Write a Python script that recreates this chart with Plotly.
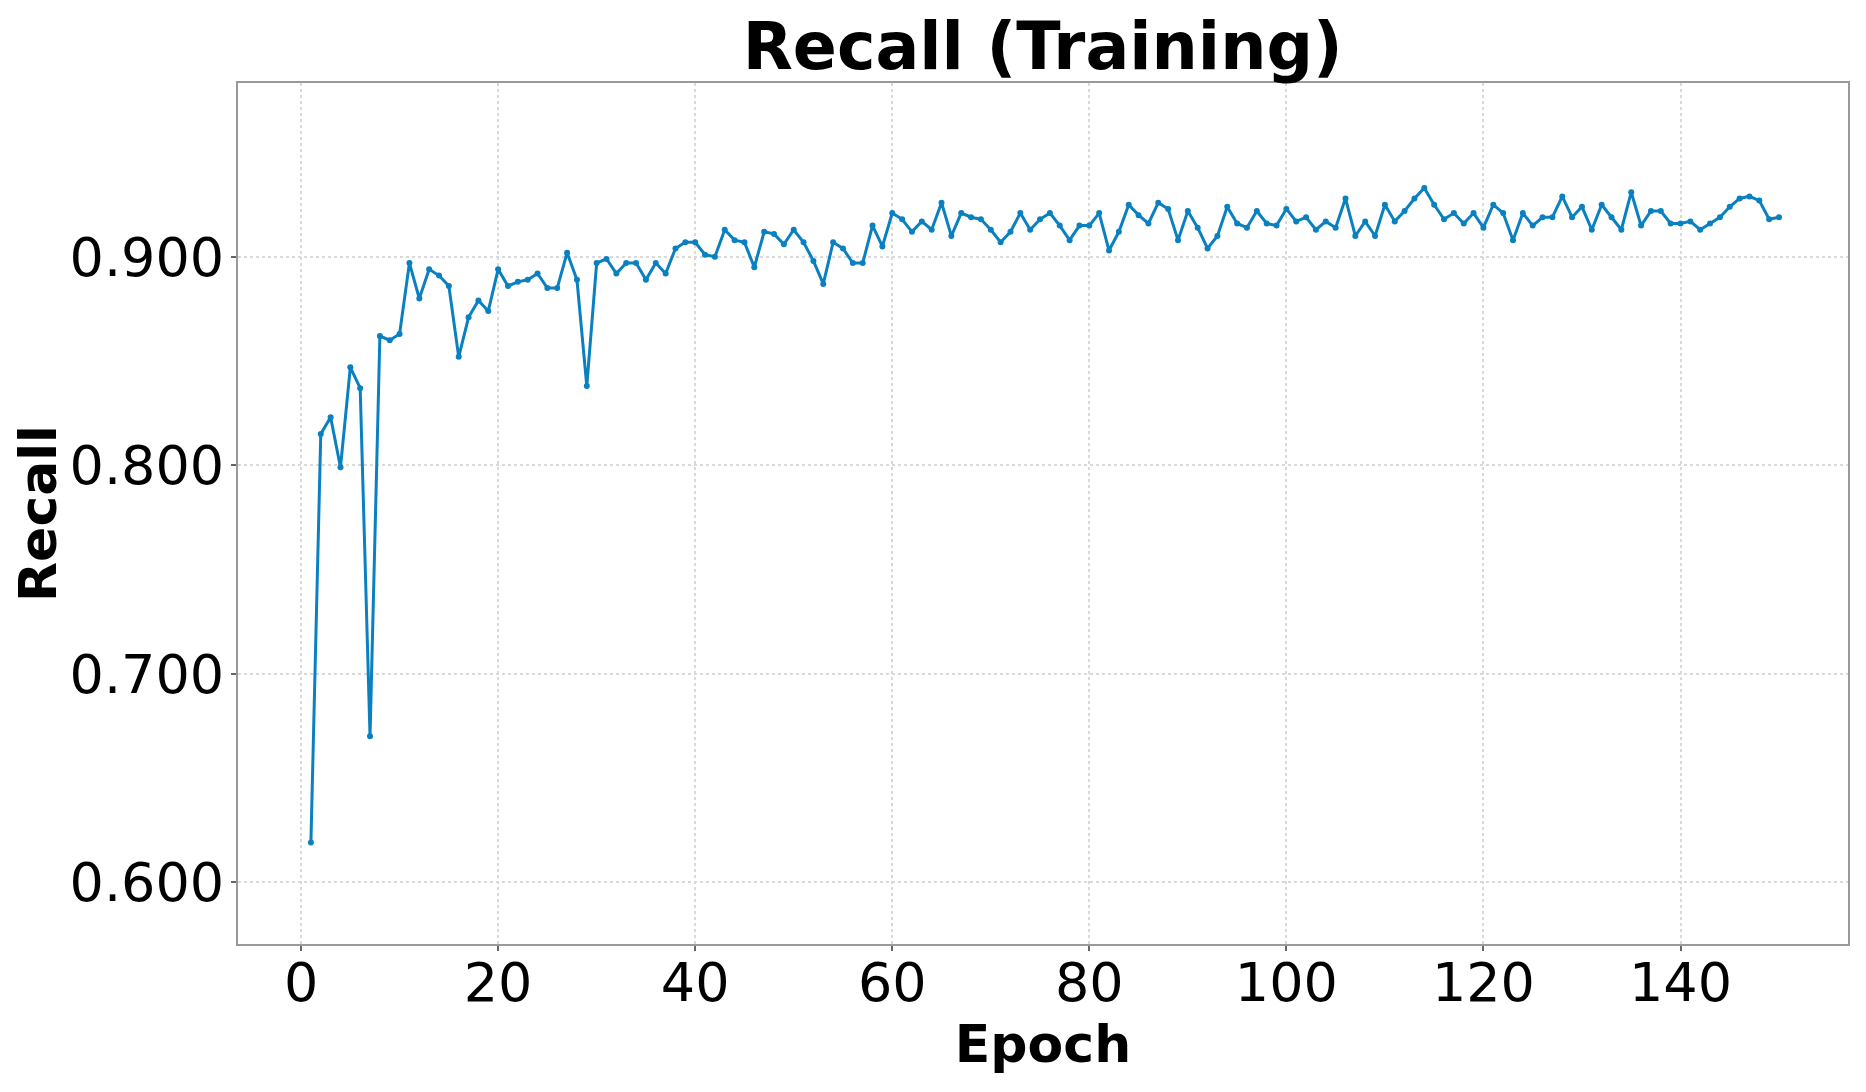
import plotly.graph_objects as go

# recall per epoch
epochs = list(range(1, 151))
recall = [
    0.619, 0.815, 0.823, 0.799, 0.847, 0.837, 0.670, 0.862, 0.860, 0.863,
    0.897, 0.880, 0.894, 0.891, 0.886, 0.852, 0.871, 0.879, 0.874, 0.894,
    0.886, 0.888, 0.889, 0.892, 0.885, 0.885, 0.902, 0.889, 0.838, 0.897,
    0.899, 0.892, 0.897, 0.897, 0.889, 0.897, 0.892, 0.904, 0.907, 0.907,
    0.901, 0.900, 0.913, 0.908, 0.907, 0.895, 0.912, 0.911, 0.906, 0.913,
    0.907, 0.898, 0.887, 0.907, 0.904, 0.897, 0.897, 0.915, 0.905, 0.921,
    0.918, 0.912, 0.917, 0.913, 0.926, 0.910, 0.921, 0.919, 0.918, 0.913,
    0.907, 0.912, 0.921, 0.913, 0.918, 0.921, 0.915, 0.908, 0.915, 0.915,
    0.921, 0.903, 0.912, 0.925, 0.920, 0.916, 0.926, 0.923, 0.908, 0.922,
    0.914, 0.904, 0.910, 0.924, 0.916, 0.914, 0.922, 0.916, 0.915, 0.923,
    0.917, 0.919, 0.913, 0.917, 0.914, 0.928, 0.910, 0.917, 0.910, 0.925,
    0.917, 0.922, 0.928, 0.933, 0.925, 0.918, 0.921, 0.916, 0.921, 0.914,
    0.925, 0.921, 0.908, 0.921, 0.915, 0.919, 0.919, 0.929, 0.919, 0.924,
    0.913, 0.925, 0.919, 0.913, 0.931, 0.915, 0.922, 0.922, 0.916, 0.916,
    0.917, 0.913, 0.916, 0.919, 0.924, 0.928, 0.929, 0.927, 0.918, 0.919,
]
x_ticks = [0, 20, 40, 60, 80, 100, 120, 140]
y_ticks = [0.6, 0.7, 0.8, 0.9]

line_color = '#0a80c0'
font = 'DejaVu Sans'

fig = go.Figure()
fig.add_trace(go.Scatter(x=epochs,
                         y=recall,
                         mode='lines+markers',
                         name='recall',
                         line=dict(color=line_color, width=3),
                         marker=dict(color=line_color, size=6)
                         ))

axis_common = dict(showline=True, mirror=True, linecolor='#999999', linewidth=2,
                   showgrid=True, gridcolor='#d9d9d9', griddash='dot', gridwidth=1.5,
                   ticks='outside', ticklen=5, tickwidth=2, tickcolor='#666666',
                   zeroline=False,
                   tickfont=dict(family=font, size=54, color='black'))

fig.update_layout(
    width=1866, height=1092,
    paper_bgcolor='white', plot_bgcolor='white',
    margin=dict(l=230, r=26, t=75, b=156),
    showlegend=False,
    title=dict(text='<b>Recall (Training)</b>', x=0.5545, xanchor='center',
               y=0.965, yanchor='middle',
               font=dict(family=font, size=65, color='black')),
    xaxis=dict(axis_common, range=[-6.4, 157.0], tickvals=x_ticks,
               ticklabelstandoff=-15,
               title=dict(text='<b>Epoch</b>', standoff=0,
                          font=dict(family=font, size=52, color='black'))),
    yaxis=dict(axis_common, range=[0.5703, 0.9834], tickvals=y_ticks, tickformat='.3f',
               ticklabelstandoff=-4,
               title=dict(text='<b>Recall</b>', standoff=10,
                          font=dict(family=font, size=52, color='black'))),
)

fig.write_html("out.html")
